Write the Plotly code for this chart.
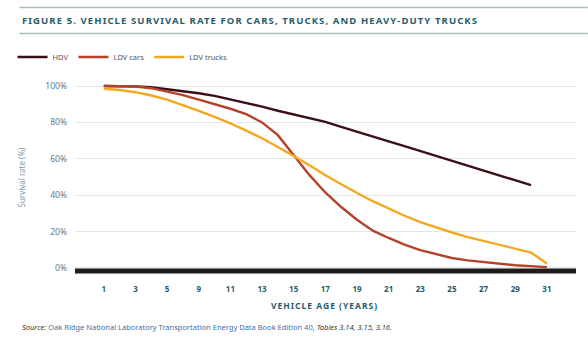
import plotly.graph_objects as go

# ---- data (x = position on the category axis; one step = one tick label) ----
tick_labels = ["1", "3", "5", "9", "11", "13", "15", "17", "19", "21", "23", "25", "27", "29", "31"]

x_pos = [0, 0.5, 1, 1.5, 2, 2.5, 3, 3.5, 4, 4.5, 5, 5.5, 6, 6.5, 7, 7.5, 8, 8.5, 9, 9.5,
         10, 10.5, 11, 11.5, 12, 12.5, 13, 13.5, 14]

hdv = [100, 100, 99.8, 99.3, 98.3, 97.2, 96, 94.6, 92.7, 90.8, 88.7, 86.4, 84.5, 82.5, 80.3,
       77.5, 75, 72.3, 69.6, 67, 64.3, 61.6, 59, 56.3, 53.6, 50.9, 48.2, 45.5]

ldv_cars = [100, 100, 99.7, 98.8, 97, 95, 92.5, 90, 87.5, 84.5, 80, 73, 62, 51, 41.5, 33.5,
            26.5, 20.5, 16.5, 12.8, 9.8, 7.5, 5.5, 4.2, 3.2, 2.3, 1.5, 1, 0.5]

ldv_trucks = [98.5, 97.8, 96.6, 94.8, 92.5, 89.5, 86.3, 83, 79.5, 75.5, 71.3, 66.5, 61.5, 56.5,
              51, 46, 41.2, 36.7, 32.5, 28.7, 25.2, 22.2, 19.5, 17, 14.8, 12.8, 10.8, 8.5, 2.5]

y_ticks = [0, 20, 40, 60, 80, 100]

# ---- styling ----
C_HDV = "#3b0f16"
C_CARS = "#b4422b"
C_TRUCKS = "#f4a822"
TEAL = "#1f5d6b"
TICKGRAY = "#5b7d89"
FONT = "Noto Sans"

W, H = 588, 337
ML, MR, MT, MB = 71, 12, 80, 62
PW, PH = W - ML - MR, H - MT - MB


def px(x):
    return (x - ML) / PW


def py(y):
    return (H - MB - y) / PH


fig = go.Figure()
fig.add_trace(go.Scatter(x=x_pos[:len(hdv)], y=hdv, mode="lines", name="HDV",
                         line=dict(color=C_HDV, width=2.4)))
fig.add_trace(go.Scatter(x=x_pos[:len(ldv_cars)], y=ldv_cars, mode="lines", name="LDV cars",
                         line=dict(color=C_CARS, width=2.4)))
fig.add_trace(go.Scatter(x=x_pos[:len(ldv_trucks)], y=ldv_trucks, mode="lines", name="LDV trucks",
                         line=dict(color=C_TRUCKS, width=2.4)))

# thick black baseline below the zero line
fig.add_shape(type="line", xref="paper", x0=0, x1=1, yref="y", y0=-1.6, y1=-1.6,
              line=dict(color="#1c1c1a", width=5), layer="above")

# title rules
for yy in (7.5, 33.5):
    fig.add_shape(type="line", xref="paper", yref="paper", x0=px(15), x1=px(588),
                  y0=py(yy), y1=py(yy), line=dict(color="#a9bcc0", width=1.6))

fig.add_annotation(xref="paper", yref="paper", x=px(16), y=py(20.8), xanchor="left",
                   yanchor="middle", showarrow=False,
                   text='<span style="letter-spacing:1.1px"><b>FIGURE 5. VEHICLE SURVIVAL RATE FOR CARS, TRUCKS, AND HEAVY-DUTY TRUCKS</b></span>',
                   font=dict(family=FONT, size=9.5, color=TEAL))

fig.add_annotation(xref="paper", yref="paper", x=px(322), y=py(305.5), xanchor="center",
                   yanchor="middle", showarrow=False,
                   text='<span style="letter-spacing:1px"><b>VEHICLE AGE (YEARS)</b></span>',
                   font=dict(family=FONT, size=8.5, color=TEAL))

fig.add_annotation(xref="paper", yref="paper", x=px(16), y=py(327), xanchor="left",
                   yanchor="middle", showarrow=False,
                   text=('<i>Source:</i> <span style="color:#3b6fa8">Oak Ridge National Laboratory '
                         'Transportation Energy Data Book Edition 40</span>, '
                         '<i>Tables 3.14, 3.15, 3.16.</i>'),
                   font=dict(family=FONT, size=7.5, color="#3a3a3a"))

fig.update_layout(
    width=W, height=H,
    margin=dict(l=ML, r=MR, t=MT, b=MB),
    paper_bgcolor="white", plot_bgcolor="white",
    font=dict(family=FONT),
    showlegend=True,
    legend=dict(orientation="h", x=px(8), y=py(57), xanchor="left", yanchor="middle",
                font=dict(family=FONT, size=7.5, color="#555555"),
                itemwidth=30, bgcolor="rgba(0,0,0,0)"),
    xaxis=dict(range=[-0.91, 14.92], tickmode="array", tickvals=list(range(len(tick_labels))),
               ticktext=[f"<b>{t}</b>" for t in tick_labels],
               tickfont=dict(family=FONT, size=8, color=TEAL),
               showgrid=False, zeroline=False, showline=False, ticks="",
               ticklabelstandoff=8),
    yaxis=dict(range=[-3.85, 103.3], tickmode="array", tickvals=y_ticks,
               ticktext=[f"{v}%" for v in y_ticks],
               tickfont=dict(family=FONT, size=8.5, color=TICKGRAY),
               showgrid=True, gridcolor="#e3e6e8", gridwidth=1,
               zeroline=False, showline=False, ticks="", ticklabelstandoff=7,
               title=dict(text="Survival rate (%)", standoff=18,
                          font=dict(family=FONT, size=8, color="#7f9ca6"))),
)

fig.write_html("out.html")
